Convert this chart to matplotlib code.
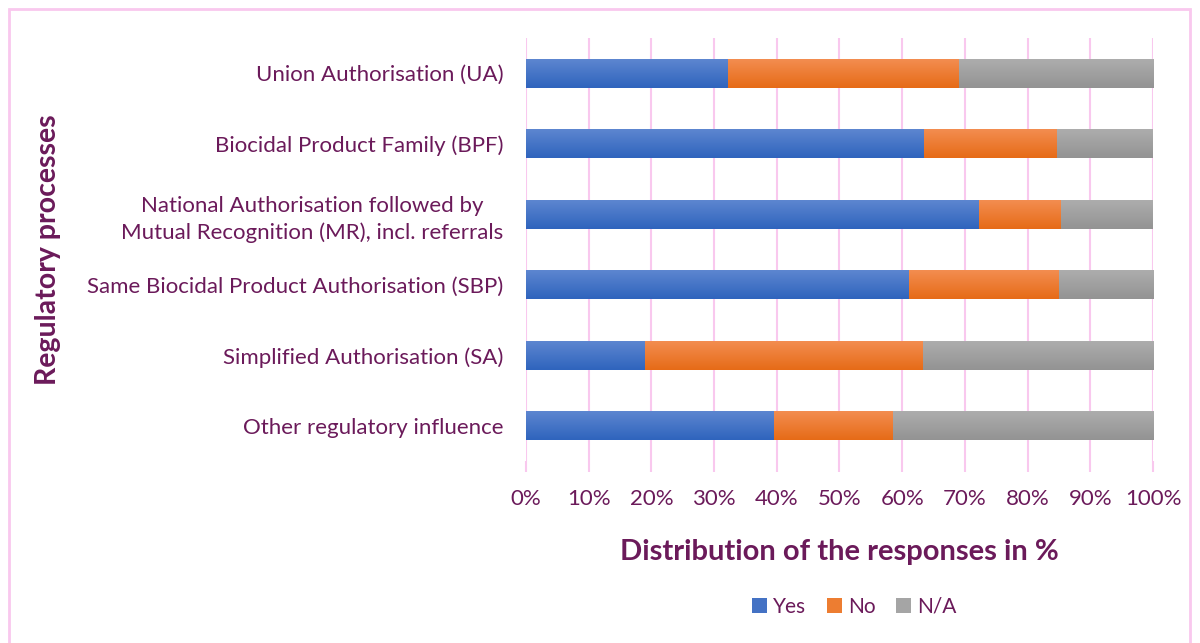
#!/usr/bin/env python3
"""Stacked horizontal bars: influence of regulatory processes (Yes / No / N/A)."""

import matplotlib

matplotlib.use("Agg")
import matplotlib.pyplot as plt
from matplotlib.colors import LinearSegmentedColormap
from matplotlib.patches import Rectangle
import numpy as np

CATEGORIES = [
    "Union Authorisation (UA)",
    "Biocidal Product Family (BPF)",
    "National Authorisation followed by\nMutual Recognition (MR), incl. referrals",
    "Same Biocidal Product Authorisation (SBP)",
    "Simplified Authorisation (SA)",
    "Other regulatory influence",
]
YES = [32.3, 63.5, 72.3, 61.1, 19.0, 39.5]
NO = [36.7, 21.2, 13.1, 23.9, 44.3, 19.0]
NA = [31.0, 15.3, 14.6, 15.0, 36.7, 41.5]
SERIES = ["Yes", "No", "N/A"]
TICKS = np.arange(0, 101, 10)

TEXT_COLOR = "#6B1A5A"
GRID_COLOR = "#F9C8EE"
COLORS = ["#4472C4", "#ED7D31", "#A5A5A5"]
# top / bottom shades for the slight vertical gradient on the bars
GRADIENTS = [("#5D86D0", "#2F64BD"), ("#F38D50", "#E66B17"), ("#ADADAD", "#939393")]

plt.rcParams["font.family"] = ["Lato", "DejaVu Sans"]

fig = plt.figure(figsize=(12, 6.43), dpi=100)
ax = fig.add_axes([0.4383, 0.283, 0.5225, 0.658])

y = np.arange(len(CATEGORIES))
left = np.zeros(len(CATEGORIES))
ramp = np.linspace(0, 1, 64).reshape(-1, 1)
for name, values, color, (top, bottom) in zip(SERIES, [YES, NO, NA], COLORS, GRADIENTS):
    bars = ax.barh(y, values, left=left, height=0.41, color=color, label=name, zorder=3)
    cmap = LinearSegmentedColormap.from_list(name, [top, bottom])
    for bar in bars:
        x0, y0 = bar.get_x(), bar.get_y()
        w, h = bar.get_width(), bar.get_height()
        img = ax.imshow(ramp, cmap=cmap, aspect="auto", origin="upper",
                        extent=(x0, x0 + w, y0 + h, y0), zorder=4,
                        interpolation="bilinear")
        img.set_clip_path(bar)
    left += np.array(values)

ax.set_ylim(len(CATEGORIES) - 0.5, -0.5)
ax.set_xlim(0, 100)
ax.set_xticks(TICKS)
ax.set_xticklabels([f"{t}%" for t in TICKS])
ax.set_yticks(y)
ax.set_yticklabels(CATEGORIES, ha="right", multialignment="center",
                   linespacing=1.4)

ax.grid(axis="x", color=GRID_COLOR, linewidth=1.5, zorder=0)
ax.tick_params(axis="x", length=8, color=GRID_COLOR, width=1.5,
               labelsize=16, labelcolor=TEXT_COLOR, pad=12)
ax.tick_params(axis="y", length=0, labelsize=16, labelcolor=TEXT_COLOR, pad=16)
for spine in ax.spines.values():
    spine.set_visible(False)

ax.set_xlabel("Distribution of the responses in %", fontsize=21,
              fontweight="bold", color=TEXT_COLOR, labelpad=22)
fig.text(0.04, 0.611, "Regulatory processes", rotation=90, fontsize=20.5,
         fontweight="bold", color=TEXT_COLOR, ha="center", va="center")

ax.legend(loc="center", bbox_to_anchor=(0.712, 0.056),
          bbox_transform=fig.transFigure, ncol=3, frameon=False,
          fontsize=15, handlelength=0.7, handleheight=0.7,
          handletextpad=0.3, columnspacing=1.0, labelcolor=TEXT_COLOR)

fig.patches.append(Rectangle((9 / 1200, -0.05), 1181 / 1200, 1.05 - 9 / 643,
                             transform=fig.transFigure, fill=False,
                             edgecolor=GRID_COLOR, linewidth=2))

fig.savefig("out.png", dpi=100)
